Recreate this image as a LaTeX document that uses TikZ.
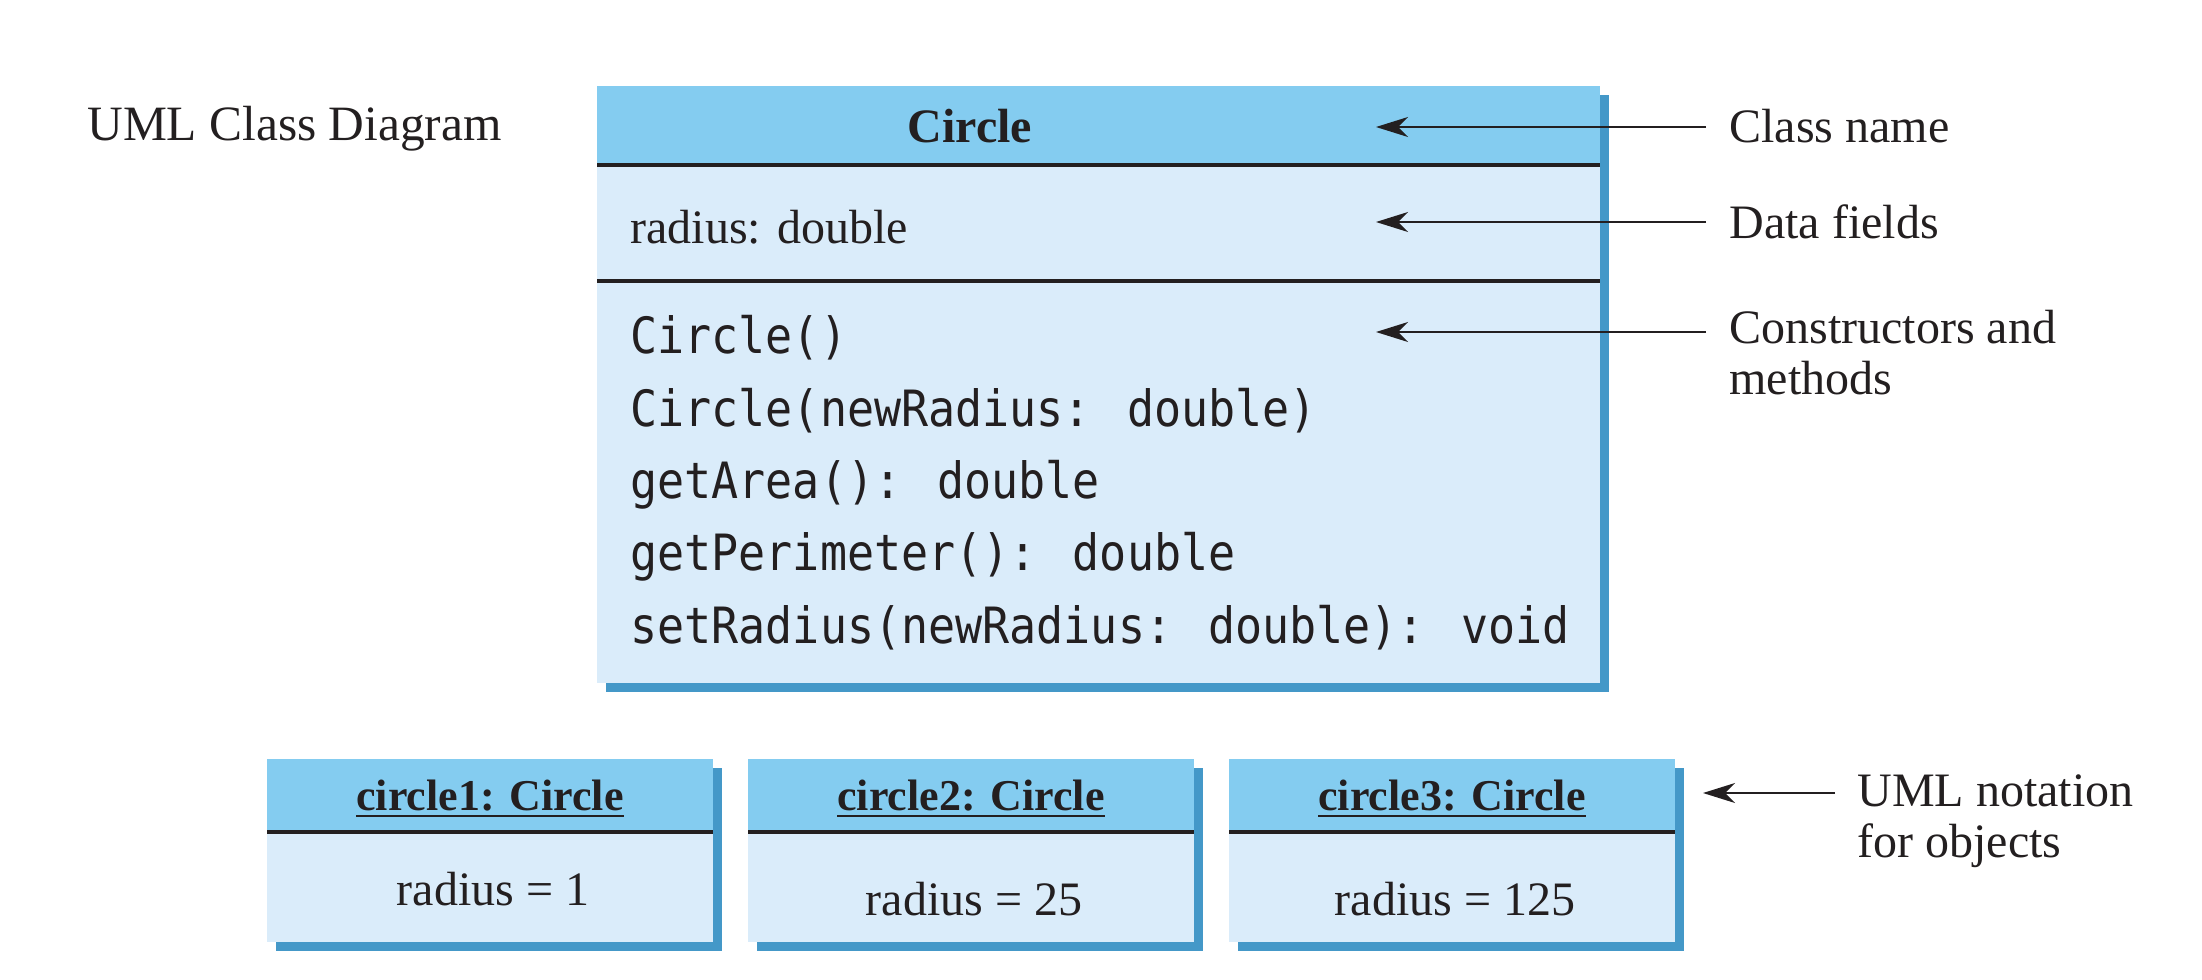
\documentclass[tikz,border=0pt]{standalone}
\usepackage{fontspec}
\setmainfont{Liberation Serif}
\newfontfamily\monof[FakeStretch=0.9]{DejaVu Sans Mono}
\usetikzlibrary{arrows.meta}
\definecolor{hdr}{HTML}{84CCF0}
\definecolor{bdy}{HTML}{DAECFA}
\definecolor{shd}{HTML}{4498C8}
\definecolor{ink}{HTML}{231F20}
\tikzset{
  txt/.style={inner sep=0pt, text=ink, font=\fontsize{24}{25.5}\selectfont},
  mono/.style={inner sep=0pt, text=ink, anchor=base west, font=\monof\fontsize{25}{25}\selectfont},
  sep/.style={draw=ink, line width=1.6pt},
  ptr/.style={draw=ink, line width=0.8pt, -{Stealth[length=16pt,width=10pt,inset=5pt]}},
}
\begin{document}
\begin{tikzpicture}[x=0.5pt,y=-0.5pt]
\useasboundingbox (0,0) rectangle (2202,980);
% class box
\fill[shd] (606,95) rectangle (1609,692);
\fill[bdy] (597,86) rectangle (1600,683);
\fill[hdr] (597,86) rectangle (1600,165);
\draw[sep] (597,165) -- (1600,165);
\draw[sep] (597,281) -- (1600,281);
\node[txt, anchor=base west, font=\fontsize{24.7}{25.5}\selectfont] (uml) at (87,140) {UML Class Diagram};
\node[txt, anchor=base, font=\bfseries\fontsize{24}{24}\selectfont] (cname) at (970,142) {Circle};
\node[txt, anchor=base west] (field) at (630,243) {radius: double};
\node[mono] (m1) at (630,353) {Circle()};
\node[mono] (m2) at (630,426) {Circle(newRadius: double)};
\node[mono] (m3) at (630,498) {getArea(): double};
\node[mono] (m4) at (630,570) {getPerimeter(): double};
\node[mono] (m5) at (630,643) {setRadius(newRadius: double): void};
% labels
\node[txt, anchor=base west] (l1) at (1729,142) {Class name};
\node[txt, anchor=base west] (l2) at (1729,238) {Data fields};
\node[txt, anchor=base west, align=left] (l3) at (1729,394) {Constructors and\\methods};
\node[txt, anchor=base west, align=left] (l4) at (1857,857) {UML notation\\for objects};
\coordinate (a1s) at (1706,127); \coordinate (a1e) at (1376,127);
\coordinate (a2s) at (1706,222); \coordinate (a2e) at (1376,222);
\coordinate (a3s) at (1706,332); \coordinate (a3e) at (1376,332);
\coordinate (a4s) at (1835,793); \coordinate (a4e) at (1703,793);
\draw[ptr] (a1s) -- (a1e);
\draw[ptr] (a2s) -- (a2e);
\draw[ptr] (a3s) -- (a3e);
\draw[ptr] (a4s) -- (a4e);
% object boxes
\foreach \x/\n/\r/\b in {267/1/1/905, 748/2/25/915, 1229/3/125/915} {
  \fill[shd] (\x+9,768) rectangle (\x+455,951);
  \fill[bdy] (\x,759) rectangle (\x+446,942);
  \fill[hdr] (\x,759) rectangle (\x+446,832);
  \draw[sep] (\x,832) -- (\x+446,832);
  \node[txt, anchor=base, font=\bfseries\fontsize{22}{22}\selectfont] (o\n) at (\x+223,810) {circle\n: Circle};
  \draw[ink, line width=1.2pt] ([yshift=-3pt]o\n.base west) -- ([yshift=-3pt]o\n.base east);
  \node[txt, anchor=base] (r\n) at (\x+226,\b) {radius = \r};
}
\end{tikzpicture}
\end{document}
